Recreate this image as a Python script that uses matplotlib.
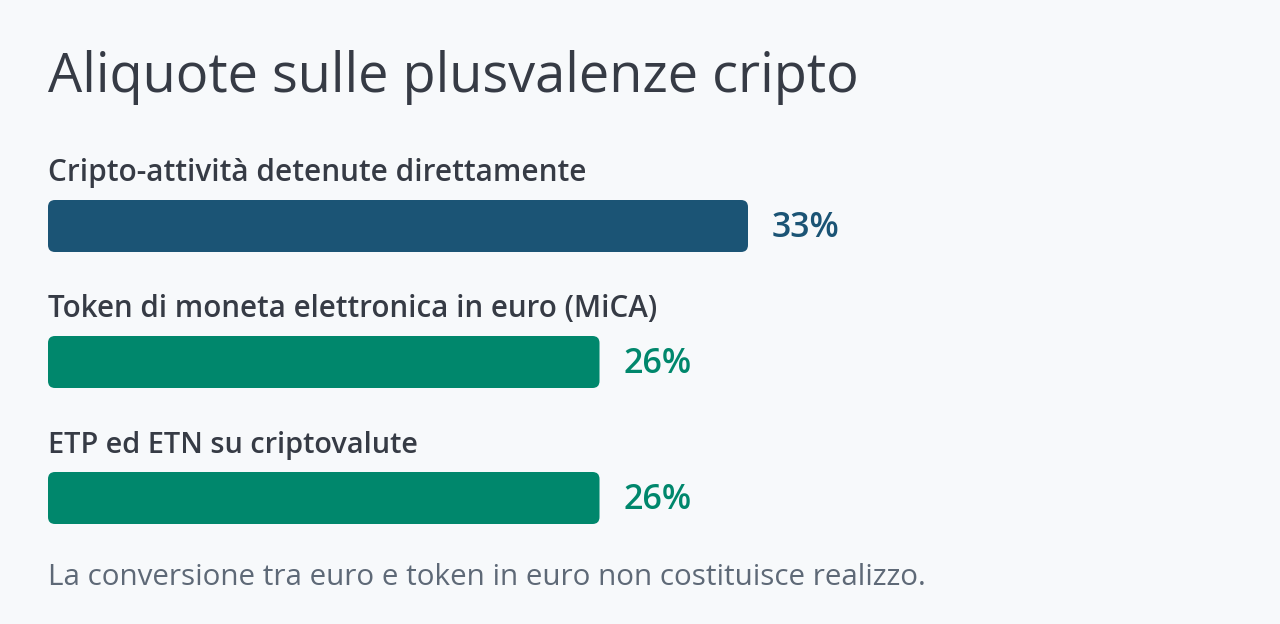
import matplotlib
matplotlib.use("Agg")
import matplotlib.pyplot as plt
from matplotlib.patches import FancyBboxPatch
from matplotlib.transforms import IdentityTransform

title = "Aliquote sulle plusvalenze cripto"
categories = ["Cripto-attività detenute direttamente",
              "Token di moneta elettronica in euro (MiCA)",
              "ETP ed ETN su criptovalute"]
values = [33, 26, 26]
value_labels = ["33%", "26%", "26%"]
note = "La conversione tra euro e token in euro non costituisce realizzo."

colors = ["#1b5475", "#00876c", "#00876c"]
bg = "#f7f9fb"
text_dark = "#363b45"
text_gray = "#5e6977"
font = "Open Sans"

W, H = 1280, 624
fig = plt.figure(figsize=(W / 100, H / 100), dpi=100, facecolor=bg)
ax = fig.add_axes([0, 0, 1, 1])
ax.set_facecolor(bg)
ax.axis("off")

label_base = [181, 317, 453]
bar_top = [200, 336, 472]
label_widths = [539, 613, 370]
bar_h = 52

bars = ax.barh([t + bar_h / 2 for t in bar_top], values, height=bar_h, left=0)

# 33% bar is 700 px wide, starting at x = 48 px
x0_px, full_px = 48, 700
unit = full_px / max(values)
ax.set_xlim(-x0_px / unit, (W - x0_px) / unit)
ax.set_ylim(H, 0)

renderer = fig.canvas.get_renderer()

# rounded corners: rebuild each bar in pixel space
r = 7
for bar, c in zip(bars, colors):
    bar.set_visible(False)
    (x1, y1), (x2, y2) = ax.transData.transform(
        [(bar.get_x(), bar.get_y()), (bar.get_x() + bar.get_width(), bar.get_y() + bar.get_height())])
    lo_x, hi_x = min(x1, x2), max(x1, x2)
    lo_y, hi_y = min(y1, y2), max(y1, y2)
    patch = FancyBboxPatch((lo_x + r, lo_y + r), hi_x - lo_x - 2 * r, hi_y - lo_y - 2 * r,
                           boxstyle=f"round,pad={r}", facecolor=c, edgecolor="none",
                           transform=IdentityTransform())
    fig.add_artist(patch)


def fit_text(x, y, s, width_px, **kw):
    t = ax.text(x, y, s, **kw)
    size = t.get_fontsize()
    for _ in range(3):
        w = t.get_window_extent(renderer).width
        size *= width_px / w
        t.set_fontsize(size)
    return t


fit_text(0, 92, title, 810, fontsize=40, family=font, color=text_dark,
         va="baseline", ha="left")

for i, (cat, v, vl, c) in enumerate(zip(categories, values, value_labels, colors)):
    fit_text(0, label_base[i], cat, label_widths[i], fontsize=18, family=font,
             weight="semibold", color=text_dark, va="baseline", ha="left")
    fit_text(v + 24 / unit, bar_top[i] + bar_h / 2 + 11, vl, 68, fontsize=22,
             family=font, weight="semibold", color=c, va="baseline", ha="left")

fit_text(0, 585, note, 878, fontsize=18, family=font, color=text_gray,
         va="baseline", ha="left")

fig.savefig("out.png", dpi=100, facecolor=bg)
